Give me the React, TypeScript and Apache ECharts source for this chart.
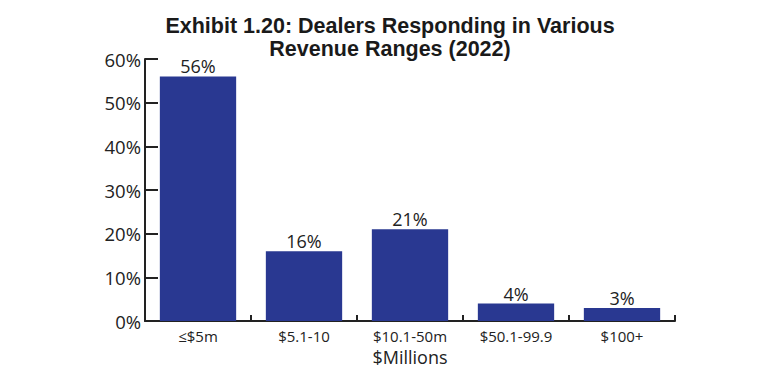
import React, { useEffect, useRef } from "react";
import * as echarts from "echarts";

const categories = ["≤$5m", "$5.1-10", "$10.1-50m", "$50.1-99.9", "$100+"];
const values = [56, 16, 21, 4, 3];
const yTicks = [0, 10, 20, 30, 40, 50, 60];

export default function App() {
  const ref = useRef<HTMLDivElement>(null);
  useEffect(() => {
    if (!ref.current) return;
    const chart = echarts.init(ref.current, undefined, { renderer: "svg" });
    const font = "'Open Sans', 'Liberation Sans', sans-serif";
    chart.setOption({
      animation: false,
      title: {
        text: "Exhibit 1.20: Dealers Responding in Various\nRevenue Ranges (2022)",
        left: "center",
        top: 9,
        textStyle: {
          fontFamily: "'Liberation Sans', Arial, sans-serif",
          fontWeight: "bold",
          fontSize: 21.5,
          lineHeight: 23,
          color: "#1a1a1a",
        },
      },
      grid: { left: 145, right: 105, top: 59, bottom: 57 },
      xAxis: {
        type: "category",
        data: categories,
        boundaryGap: true,
        name: "$Millions",
        nameLocation: "middle",
        nameGap: 25,
        nameTextStyle: { fontFamily: font, fontSize: 18, color: "#222" },
        axisLine: { lineStyle: { color: "#222", width: 2 } },
        axisTick: { show: true, inside: true, length: 6, lineStyle: { color: "#222", width: 2 } },
        axisLabel: { fontFamily: font, fontSize: 15, color: "#222", margin: 7 },
      },
      yAxis: {
        type: "value",
        min: yTicks[0],
        max: yTicks[yTicks.length - 1],
        interval: 10,
        splitLine: { show: false },
        axisLine: { show: true, lineStyle: { color: "#222", width: 2 } },
        axisTick: { show: true, inside: true, length: 13, lineStyle: { color: "#222", width: 2 } },
        axisLabel: { fontFamily: font, fontSize: 18.5, color: "#222", margin: 4, formatter: "{value}%" },
      },
      series: [
        {
          type: "bar",
          data: values,
          barWidth: "72%",
          itemStyle: { color: "#293891" },
          label: {
            show: true,
            position: "top",
            distance: 1,
            formatter: "{c}%",
            fontFamily: font,
            fontSize: 18,
            color: "#222",
          },
        },
      ],
    });
    return () => chart.dispose();
  }, []);
  return <div ref={ref} style={{ width: 780, height: 378, margin: -8 }} />;
}
